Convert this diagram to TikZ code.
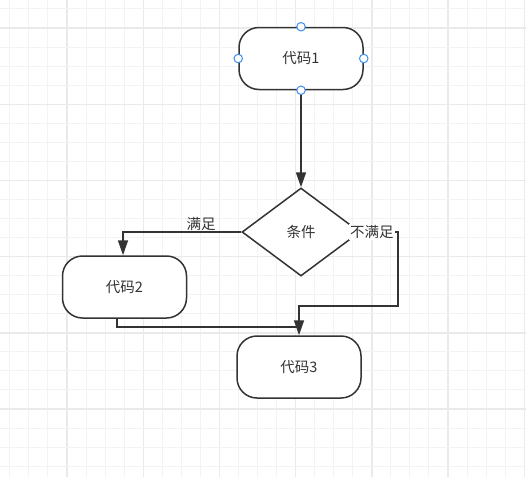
\documentclass[tikz,border=0pt]{standalone}
\usepackage{fontspec}
\newfontfamily\cjk{Noto Sans CJK SC}
\usetikzlibrary{arrows.meta,positioning,calc,shapes.geometric}
\usepackage{xcolor}
\definecolor{ink}{HTML}{333333}
\definecolor{gridminor}{HTML}{F3F3F3}
\definecolor{gridmajor}{HTML}{EAEAEA}
\definecolor{handleblue}{HTML}{3D8EF0}
\tikzset{
  proc/.style={draw=ink,line width=1.5pt,rounded corners=20pt,fill=white,align=center,minimum width=124pt,minimum height=62pt,font=\cjk\fontsize{14.5}{17}\selectfont,text=ink},
  cond/.style={draw=ink,line width=1.5pt,diamond,fill=white,inner sep=0pt,minimum width=118pt,minimum height=88pt,font=\cjk\fontsize{14.5}{17}\selectfont,text=ink},
  arr/.style={-{Triangle[length=15pt,width=10pt]},line width=1.6pt,draw=ink},
  link/.style={line width=1.6pt,draw=ink},
  lbl/.style={font=\cjk\fontsize{14.5}{17}\selectfont,text=ink,inner sep=1pt},
  handle/.style={circle,draw=handleblue,fill=white,line width=1pt,inner sep=0pt,minimum size=8.5pt}
}
\begin{document}
\begin{tikzpicture}[x=1pt,y=-1pt]
        \useasboundingbox (0,0) rectangle (526,477);
        \fill[white] (0,0) rectangle (526,477);
        % grid
        \foreach \i in {0,...,27} {
          \pgfmathsetmacro{\gx}{9.85+19.05*\i}
          \pgfmathtruncatemacro{\gm}{mod(\i,4)}
          \ifnum\gm=3 \draw[gridmajor,line width=1.4pt] (\gx,0) -- (\gx,477);
          \else \draw[gridminor,line width=1pt] (\gx,0) -- (\gx,477); \fi
        }
        \foreach \j in {0,...,24} {
          \pgfmathsetmacro{\gy}{8.95+19.05*\j}
          \pgfmathtruncatemacro{\gm}{mod(\j,4)}
          \ifnum\gm=1 \draw[gridmajor,line width=1.4pt] (0,\gy) -- (526,\gy);
          \else \draw[gridminor,line width=1pt] (0,\gy) -- (526,\gy); \fi
        }
        % shapes
        \node[proc] (c1) at (301,58.5) {代码1};
        \node[cond] (k) at (301,232) {条件};
        \node[proc] (c2) at (124.5,287) {代码2};
        \node[proc] (c3) at (299,367) {代码3};
        \coordinate (nj) at (398,306);
        \coordinate (yj) at (298,327);
        % connectors
        \draw[arr] (c1.south) -- (k.north);
        \draw[arr] (k.west) -| node[lbl,pos=0.17,above] (yes) {满足} ($(c2.north)+(-1.5,0)$);
        \draw[link] ($(c2.south)+(-7.5,0)$) |- (yj);
        \draw[arr] (k.east) -| node[lbl,pos=0.15,fill=white] (no) {不满足} (nj) -| (c3.north);
        % selection handles
        \foreach \a in {north,south,east,west}
          \node[handle] (h-\a) at (c1.\a) {};
      \end{tikzpicture}
\end{document}
